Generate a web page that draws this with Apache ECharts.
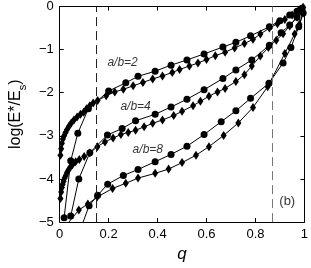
<!DOCTYPE html>
<html><head><meta charset="utf-8">
<script src="https://cdn.jsdelivr.net/npm/echarts@6/dist/echarts.min.js"></script>
<style>html,body{margin:0;padding:0;background:#fff}#c{width:311px;height:268px}</style>
</head><body><div id="c"></div>
<script>
// a/b = 2
const qCirc2 = [0.018,0.045,0.074,0.117,0.2,0.27,0.32,0.39,0.455,0.52,0.59,0.667,0.72,0.78,0.857,0.9,0.94,0.97,0.99];
const eCirc2 = [-4.9,-3.58,-2.94,-2.37,-1.96,-1.77,-1.62,-1.5,-1.36,-1.24,-1.1,-0.94,-0.83,-0.68,-0.47,-0.33,-0.2,-0.11,-0.04];
const qDiam2 = [0.003,0.006,0.009,0.013,0.018,0.024,0.03,0.038,0.047,0.058,0.071,0.085,0.098,0.11,0.123,0.137,0.155,0.19,0.225,0.26,0.3,0.34,0.38,0.42,0.46,0.49,0.53,0.565,0.6,0.636,0.676,0.715,0.755,0.79,0.82,0.857,0.89,0.92,0.95,0.975,0.995];
const eDiam2 = [-3.45,-3.3,-3.17,-3.07,-3.0,-2.92,-2.85,-2.78,-2.7,-2.63,-2.56,-2.5,-2.45,-2.37,-2.3,-2.24,-2.18,-2.07,-1.98,-1.92,-1.84,-1.76,-1.68,-1.61,-1.53,-1.46,-1.38,-1.31,-1.23,-1.14,-1.06,-0.96,-0.86,-0.76,-0.64,-0.5,-0.4,-0.3,-0.2,-0.1,-0.02];
// a/b = 4
const qCirc4 = [0.045,0.078,0.123,0.195,0.255,0.31,0.39,0.455,0.52,0.59,0.667,0.72,0.785,0.857,0.905,0.94,0.97,0.99];
const eCirc4 = [-4.86,-4.0,-3.39,-2.98,-2.83,-2.65,-2.5,-2.33,-2.15,-1.93,-1.67,-1.47,-1.24,-0.9,-0.61,-0.43,-0.25,-0.1];
const qDiam4 = [0.003,0.006,0.009,0.012,0.016,0.02,0.025,0.03,0.036,0.043,0.052,0.065,0.08,0.1,0.123,0.154,0.185,0.218,0.25,0.28,0.31,0.345,0.38,0.42,0.466,0.5,0.545,0.575,0.61,0.645,0.676,0.72,0.755,0.785,0.82,0.853,0.885,0.913,0.94,0.97,0.99];
const eDiam4 = [-4.45,-4.3,-4.2,-4.12,-4.05,-3.98,-3.92,-3.85,-3.79,-3.73,-3.67,-3.6,-3.55,-3.48,-3.4,-3.25,-3.14,-3.05,-2.97,-2.92,-2.87,-2.79,-2.71,-2.63,-2.53,-2.43,-2.3,-2.2,-2.08,-1.98,-1.9,-1.74,-1.58,-1.38,-1.15,-0.95,-0.78,-0.63,-0.45,-0.25,-0.08];
// a/b = 8
const qCirc8 = [0.07,0.12,0.155,0.196,0.26,0.32,0.39,0.455,0.52,0.59,0.66,0.72,0.78,0.855,0.913,0.945,0.977,0.995];
const eCirc8 = [-5.4,-4.62,-4.38,-4.12,-3.92,-3.78,-3.6,-3.43,-3.24,-2.97,-2.67,-2.42,-2.13,-1.78,-1.31,-0.95,-0.47,-0.15];
const qDiam8 = [0.02,0.078,0.115,0.153,0.216,0.27,0.32,0.39,0.445,0.5,0.557,0.61,0.67,0.73,0.79,0.85,0.92,0.96,0.98,0.995];
const eDiam8 = [-5.12,-4.72,-4.58,-4.42,-4.22,-4.1,-3.98,-3.87,-3.77,-3.62,-3.45,-3.25,-2.99,-2.7,-2.34,-1.86,-1.09,-0.64,-0.41,-0.15];
// dashed verticals
const dashQ = [0.15, 0.867];
// annotations
const annQ = [0.257, 0.31, 0.36, 0.93];
const annE = [-1.31, -2.33, -3.33, -4.52];
const annText = ['a/b=2', 'a/b=4', 'a/b=8', '(b)'];

const zip = (a, b) => a.map((v, i) => [v, b[i]]);
const FONT = 'Liberation Sans';

function lineSeries(q, e, sym) {
  return {
    type: 'line', data: zip(q, e), clip: true,
    symbol: sym === 'circle' ? 'circle' : 'diamond',
    symbolSize: sym === 'circle' ? 7 : [6, 9],
    showAllSymbol: true,
    lineStyle: { color: '#000', width: 1 },
    itemStyle: { color: '#000', borderWidth: 0 },
    emphasis: { disabled: true }, animation: false, z: 3
  };
}

const series = [
  lineSeries(qCirc2, eCirc2, 'circle'),
  lineSeries(qDiam2, eDiam2, 'diamond'),
  lineSeries(qCirc4, eCirc4, 'circle'),
  lineSeries(qDiam4, eDiam4, 'diamond'),
  lineSeries(qCirc8, eCirc8, 'circle'),
  lineSeries(qDiam8, eDiam8, 'diamond')
];
series[0].markLine = {
  silent: true, symbol: 'none', animation: false,
  label: { show: false },
  data: dashQ.map((x, i) => ({ xAxis: x, lineStyle: { color: i === 0 ? '#222' : '#777', width: 1, type: [9, 5] } }))
};
series.push({
  type: 'scatter', symbolSize: 0, silent: true, animation: false,
  data: annQ.map((x, i) => ({ value: [x, annE[i]], label: {
    show: true, position: 'inside', formatter: annText[i], color: '#000',
    fontFamily: FONT, fontSize: i === 3 ? 13 : 12, fontStyle: i === 3 ? 'normal' : 'italic'
  } }))
});

const axisLine = { show: true, onZero: false, lineStyle: { color: '#000', width: 1 } };
const tick = { show: true, inside: true, length: 4, lineStyle: { color: '#000' } };
const minus = v => String(v).replace('-', '\u2212');

const option = {
  animation: false,
  grid: { left: 54, right: 4, top: 5, bottom: 42 },
  xAxis: [
    { type: 'value', min: 0, max: 1, interval: 0.2, position: 'bottom',
      axisLine, axisTick: tick, splitLine: { show: false },
      axisLabel: { color: '#000', fontFamily: FONT, fontSize: 13, margin: 6, formatter: minus },
      name: 'q', nameLocation: 'middle', nameGap: 20,
      nameTextStyle: { color: '#000', fontFamily: FONT, fontSize: 17, fontStyle: 'italic' } },
    { type: 'value', min: 0, max: 1, interval: 0.2, position: 'top',
      axisLine, axisTick: tick, axisLabel: { show: false }, splitLine: { show: false } }
  ],
  yAxis: [
    { type: 'value', min: -5, max: 0, interval: 1, position: 'left',
      axisLine, axisTick: tick, splitLine: { show: false },
      axisLabel: { color: '#000', fontFamily: FONT, fontSize: 13, margin: 6, formatter: minus },
      name: '{m|log(E*/E}{s|s}{m|)}', nameLocation: 'middle', nameGap: 30, nameRotate: 90,
      nameTextStyle: { color: '#000', fontFamily: FONT, fontSize: 16,
        rich: { m: { fontFamily: FONT, fontSize: 16, color: '#000', lineHeight: 20, verticalAlign: 'top' },
                s: { fontFamily: FONT, fontSize: 11, color: '#000', lineHeight: 20, verticalAlign: 'bottom', padding: [6, 0, 0, 0] } } } },
    { type: 'value', min: -5, max: 0, interval: 1, position: 'right',
      axisLine, axisTick: tick, axisLabel: { show: false }, splitLine: { show: false } }
  ],
  series
};
const chart = echarts.init(document.getElementById('c'), null, { renderer: 'canvas' });
chart.setOption(option);
</script></body></html>
